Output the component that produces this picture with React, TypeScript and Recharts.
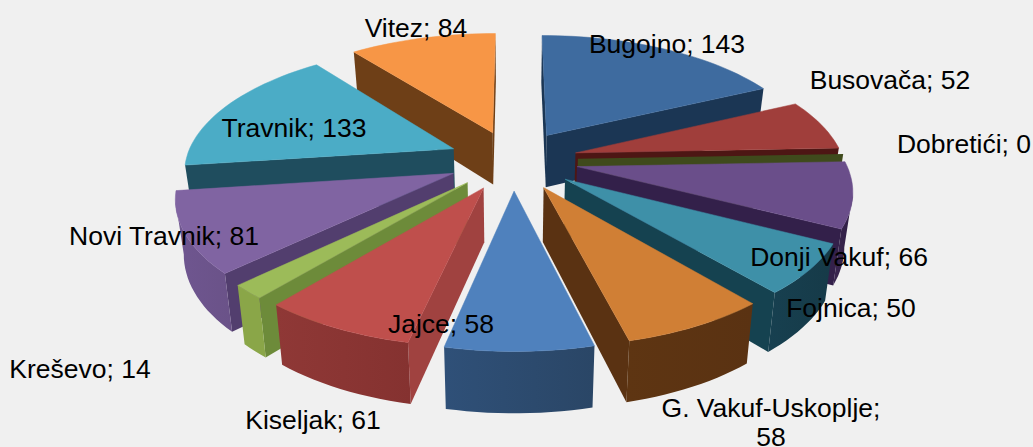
import { Pie, PieChart } from 'recharts';

const municipalities = ['Bugojno', 'Busovača', 'Dobretići', 'Donji Vakuf', 'Fojnica', 'G. Vakuf-Uskoplje', 'Jajce', 'Kiseljak', 'Kreševo', 'Novi Travnik', 'Travnik', 'Vitez'];
const counts = [143, 52, 0, 66, 50, 58, 58, 61, 14, 81, 133, 84];

const topColors = ['#3e6b9f', '#a03e3b', '#7f9a48', '#6a4e8a', '#3e90a8', '#d07f35', '#4f81bd', '#bf4f4c', '#9cbb59', '#8064a2', '#4bacc6', '#f79646'];
const edgeColors = ['#1b3654', '#4d1614', '#3f4a1c', '#33204a', '#154250', '#5a3212', '#2c4a70', '#a04240', '#6d8b3a', '#523e6e', '#1f4d5e', '#6e3f17'];
const rimLeft = ['#1f3c5e', '#5a1c1a', '#4a5622', '#3a2650', '#174050', '#5e3512', '#2f5078', '#8f3836', '#8aa648', '#6f5690', '#22505f', '#6e3f17'];
const rimRight = ['#1f3c5e', '#5a1c1a', '#4a5622', '#2f1e44', '#163a48', '#5a3212', '#2a4666', '#853230', '#8aa648', '#6a5288', '#22505f', '#6e3f17'];

// label centres, in the order of municipalities
const labelX = [667, 890, 964, 839, 851, 771, 441, 313, 80, 164, 294, 416];
const labelY = [44, 80, 144, 257, 308, 408, 324, 420, 369, 236, 128, 28];

// back to front, so the nearer slices cover the walls behind them
const paintOrder = [0, 1, 2, 3, 4, 5, 11, 10, 9, 8, 7, 6];

const table = municipalities.map((name, i) => ({ name, value: counts[i] }));

const EXPLODE = 65;
const TILT = 0.46;
const PERSPECTIVE = 0.0006;

const rad = (deg: number) => (deg * Math.PI) / 180;

function project(cx: number, cy: number, u: number, v: number) {
  const w = 1 + PERSPECTIVE * v;
  return { x: cx + u / w, y: cy - (TILT * v) / w, w };
}

function dropped(cx: number, p: { x: number; y: number; w: number }) {
  return { x: cx + (p.x - cx) * 0.975, y: p.y + 53 / Math.pow(p.w, 0.7) };
}

const toPath = (pts: { x: number; y: number }[]) =>
  'M' + pts.map((p) => `${p.x.toFixed(1)},${p.y.toFixed(1)}`).join('L') + 'Z';

function Slice(props: any) {
  const { cx, cy, outerRadius, startAngle, endAngle, midAngle, name } = props;
  const i = municipalities.indexOf(name);
  const mid = rad(90 - midAngle);
  const ou = EXPLODE * Math.sin(mid);
  const ov = EXPLODE * Math.cos(mid);
  const from = 90 - startAngle;
  const to = 90 - endAngle;
  const apex = project(cx, cy, ou, ov);
  const rim = [];
  const steps = Math.max(1, Math.ceil((to - from) / 2));
  for (let s = 0; s <= steps; s++) {
    const a = rad(from + ((to - from) * s) / steps);
    rim.push(project(cx, cy, ou + outerRadius * Math.sin(a), ov + outerRadius * Math.cos(a)));
  }
  const first = rim[0];
  const last = rim[rim.length - 1];
  const wall = (a: any, b: any) => toPath([a, b, dropped(cx, b), dropped(cx, a)]);

  const front = [];
  for (let s = 0; s < rim.length - 1; s++) {
    if (rim[s + 1].x < rim[s].x) {
      if (!front.length) front.push(rim[s]);
      front.push(rim[s + 1]);
    }
  }
  const rimWall = front.length ? toPath([...front, ...[...front].reverse().map((p) => dropped(cx, p))]) : null;

  return (
    <g>
      {first.x < apex.x && <path d={wall(apex, first)} fill={edgeColors[i]} />}
      {apex.x < last.x && <path d={wall(last, apex)} fill={edgeColors[i]} />}
      {rimWall && <path d={rimWall} fill={`url(#rim${i})`} />}
      {to > from && <path d={toPath([apex, ...rim])} fill={topColors[i]} stroke={topColors[i]} strokeWidth={0.5} />}
    </g>
  );
}

function SliceLabel(props: any) {
  const { name, value } = props;
  const i = municipalities.indexOf(name);
  const text = `${name}; ${value}`;
  const wrapped = text.length > 20;
  return (
    <text x={labelX[i]} y={labelY[i]} textAnchor="middle" dominantBaseline="central" fill="#000" fontSize={26.5} fontFamily="'Liberation Sans', Arial, sans-serif">
      {wrapped ? `${name};` : text}
      {wrapped && (
        <tspan x={labelX[i]} dy={29}>
          {value}
        </tspan>
      )}
    </text>
  );
}

export default function App() {
  return (
    <div style={{ position: 'absolute', left: 0, top: 0, width: 1033, height: 447, background: '#f0f0f0', overflow: 'hidden' }}>
      <style>{'body{margin:0;background:#f0f0f0}'}</style>
      <PieChart width={1033} height={447} margin={{ top: 0, right: 0, bottom: 0, left: 0 }}>
        <defs>
          {rimLeft.map((color, i) => (
            <linearGradient key={i} id={`rim${i}`} x1="0" y1="0" x2="1" y2="0">
              <stop offset="0%" stopColor={color} />
              <stop offset="100%" stopColor={rimRight[i]} />
            </linearGradient>
          ))}
        </defs>
        {paintOrder.map((idx, n) => (
          <Pie
            key={idx}
            data={table}
            dataKey="value"
            nameKey="name"
            cx={513}
            cy={160}
            outerRadius={268}
            startAngle={90}
            endAngle={-270}
            stroke="none"
            isAnimationActive={false}
            shape={(p: any) => (p.name === municipalities[idx] ? <Slice {...p} /> : <g />)}
            label={n === paintOrder.length - 1 ? (p: any) => <SliceLabel {...p} /> : false}
            labelLine={false}
          />
        ))}
      </PieChart>
    </div>
  );
}
